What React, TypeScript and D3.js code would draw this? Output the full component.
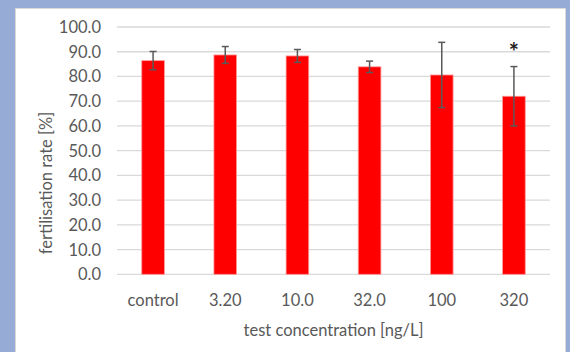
import React from "react";
import * as d3 from "d3";

const categories = ["control", "3.20", "10.0", "32.0", "100", "320"];
const means = [86.4, 88.7, 88.3, 83.9, 80.6, 72.0];
const errors = [3.7, 3.4, 2.6, 2.3, 13.2, 12.0];
const significant = [false, false, false, false, false, true];
const yTicks = [0, 10, 20, 30, 40, 50, 60, 70, 80, 90, 100];

const W = 570;
const H = 352;
const plot = { left: 117, right: 550, top: 27, bottom: 274.3 };
const FONT = "Lato, 'Open Sans', sans-serif";
const TEXT = "#595959";
const FS = 16.5;

export default function App() {
  const x = d3
    .scaleBand<string>()
    .domain(categories)
    .range([plot.left, plot.right])
    .paddingInner(0.686)
    .paddingOuter(0.343);
  const y = d3.scaleLinear().domain([0, 100]).range([plot.bottom, plot.top]);
  const bw = x.bandwidth();

  return (
    <svg
      width={W}
      height={H}
      style={{ position: "absolute", left: 0, top: 0, display: "block" }}
      fontFamily={FONT}
    >
      <rect x={0} y={0} width={W} height={H} fill="#97abd7" />
      <rect x={15.5} y={8.5} width={550} height={360} fill="#ffffff" stroke="#d9d9d9" />
      {yTicks.map((t) => (
        <g key={t}>
          <line x1={plot.left} x2={plot.right} y1={y(t)} y2={y(t)} stroke="#d9d9d9" strokeWidth={1.3} />
          <text x={101} y={y(t)} dy="0.36em" textAnchor="end" fontSize={FS} fill={TEXT}>
            {t.toFixed(1)}
          </text>
        </g>
      ))}
      {categories.map((c, i) => {
        const cx = (x(c) as number) + bw / 2;
        const hi = y(means[i] + errors[i]);
        const lo = y(means[i] - errors[i]);
        return (
          <g key={c}>
            <rect
              x={x(c)}
              y={y(means[i])}
              width={bw}
              height={y(0) - y(means[i])}
              fill="#ff0000"
              stroke="#ff9a9a"
              strokeWidth={0.8}
            />
            <line x1={cx} x2={cx} y1={hi} y2={lo} stroke="#595959" strokeWidth={1.5} />
            <line x1={cx - 3.5} x2={cx + 3.5} y1={hi} y2={hi} stroke="#595959" strokeWidth={1.5} />
            <line x1={cx - 3.5} x2={cx + 3.5} y1={lo} y2={lo} stroke="#595959" strokeWidth={1.5} />
            {significant[i] && (
              <text x={cx} y={hi - 6} textAnchor="middle" fontSize={24} fontWeight={700} fill="#222">
                *
              </text>
            )}
            <text x={cx} y={300} dy="0.36em" textAnchor="middle" fontSize={FS} fill={TEXT}>
              {c}
            </text>
          </g>
        );
      })}
      <text
        x={(plot.left + plot.right) / 2}
        y={330}
        dy="0.36em"
        textAnchor="middle"
        fontSize={FS}
        fill={TEXT}
      >
        test concentration [ng/L]
      </text>
      <text
        transform={`translate(46,183) rotate(-90)`}
        dy="0.36em"
        textAnchor="middle"
        fontSize={FS}
        fill={TEXT}
      >
        fertilisation rate [%]
      </text>
    </svg>
  );
}
